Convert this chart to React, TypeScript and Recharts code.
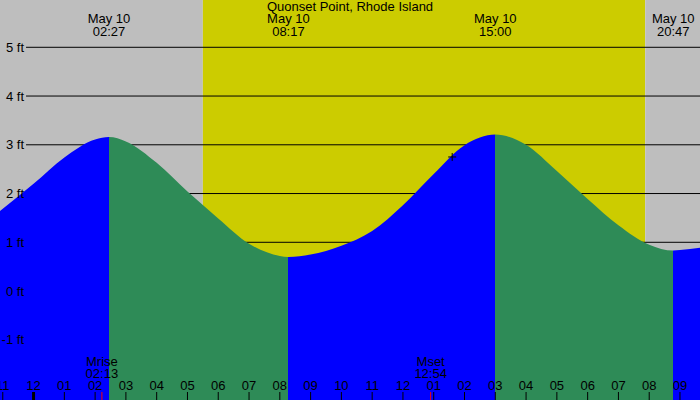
import React from "react";
import {
  ComposedChart,
  Area,
  XAxis,
  YAxis,
  ReferenceArea,
  ReferenceLine,
  ReferenceDot,
} from "recharts";

const title = "Quonset Point, Rhode Island";
const dateLabel = "May 10";

// hours counted from midnight, May 10
const tideHours = [
  -1.09, 0, 1, 2, 2.45, 3, 4, 5, 6, 7, 8, 8.28, 9, 10, 11, 12, 13, 14, 15, 16,
  17, 18, 19, 20, 20.78, 21, 21.65,
];
const tideFeet = [
  1.64, 2.2, 2.74, 3.11, 3.16, 3.07, 2.63, 2.04, 1.49, 0.97, 0.72, 0.7, 0.75,
  0.93, 1.23, 1.76, 2.4, 2.99, 3.21, 3.0, 2.46, 1.89, 1.35, 0.95, 0.83, 0.84,
  0.89,
];

const extremeHours = [2.45, 8.28, 15.0, 20.78];
const extremeTimes = ["02:27", "08:17", "15:00", "20:47"];

const sunriseHour = 5.5;
const sunsetHour = 19.87;

const moonHours = [2.22, 12.9];
const moonNames = ["Mrise", "Mset"];
const moonTimes = ["02:13", "12:54"];

const hourTicks = [
  -1, 0, 1, 2, 3, 4, 5, 6, 7, 8, 9, 10, 11, 12, 13, 14, 15, 16, 17, 18, 19, 20,
  21,
];
const feetTicks = [-1, 0, 1, 2, 3, 4, 5];

const nowHour = 13.6;
const nowFeet = 2.75;

const X_MIN = -1.09;
const X_MAX = 21.65;
const Y_MIN = -2.235;
const Y_MAX = 5.97;
const GRID_START = -0.244;

const FONT = "'Liberation Sans', Arial, sans-serif";
const RISING = "#0000ff";
const FALLING = "#2e8b57";
const NIGHT = "#bebebe";
const DAY = "#cccc00";

const data = tideHours.map((hour, i) => ({ hour, ft: tideFeet[i] }));

// hard colour stops: blue while rising, green while falling
const frac = (h: number) => ((h - X_MIN) / (X_MAX - X_MIN)) * 100;
const bounds = [X_MIN, ...extremeHours, X_MAX];
const fillStops = bounds.slice(0, -1).flatMap((h, i) => {
  const color = i % 2 === 0 ? RISING : FALLING;
  return [
    { offset: frac(h), color },
    { offset: frac(bounds[i + 1]), color },
  ];
});

const pad2 = (n: number) => String(n).padStart(2, "0");

const HourTick = ({ x, payload }: any) => {
  const h = payload.value as number;
  const h12 = ((h % 12) + 12) % 12 || 12;
  return (
    <g>
      <text x={x} y={390} textAnchor="middle" fontSize={13} fontFamily={FONT} fill="#000">
        {pad2(h12)}
      </text>
      <line x1={x} x2={x} y1={392} y2={400} stroke="#000" strokeWidth={h === 0 ? 3 : 1} />
    </g>
  );
};

const ExtremeTick = ({ x, payload }: any) => {
  const i = extremeHours.indexOf(payload.value);
  return (
    <text textAnchor="middle" fontSize={13} fontFamily={FONT} fill="#000">
      <tspan x={x} y={23}>{dateLabel}</tspan>
      <tspan x={x} y={36}>{extremeTimes[i]}</tspan>
    </text>
  );
};

const MoonTick = ({ x, payload }: any) => {
  const i = moonHours.indexOf(payload.value);
  return (
    <g>
      <text textAnchor="middle" fontSize={13} fontFamily={FONT} fill="#000">
        <tspan x={x} y={366}>{moonNames[i]}</tspan>
        <tspan x={x} y={378}>{moonTimes[i]}</tspan>
      </text>
      <line x1={x} x2={x} y1={392} y2={400} stroke="#ff0000" />
    </g>
  );
};

const FeetTick = ({ y, payload }: any) => (
  <text x={24} y={y} dy={4.5} textAnchor="end" fontSize={13} fontFamily={FONT} fill="#000">
    {payload.value} ft
  </text>
);

const PlusMark = ({ cx, cy }: any) => (
  <path d={`M${cx - 4},${cy}h8M${cx},${cy - 4}v8`} stroke="#000" strokeWidth={1} fill="none" />
);

export default function App() {
  return (
    <div style={{ position: "absolute", left: 0, top: 0, width: 700, height: 400, overflow: "hidden" }}>
      <ComposedChart width={700} height={400} data={data} margin={{ top: 0, right: 0, bottom: 0, left: 0 }}>
        <defs>
          <linearGradient id="tideFill" x1="0" y1="0" x2="1" y2="0">
            {fillStops.map((s, i) => (
              <stop key={i} offset={`${s.offset}%`} stopColor={s.color} />
            ))}
          </linearGradient>
        </defs>
        <XAxis
          dataKey="hour"
          type="number"
          domain={[X_MIN, X_MAX]}
          allowDataOverflow
          ticks={hourTicks}
          interval={0}
          mirror
          axisLine={false}
          tickLine={false}
          tick={<HourTick />}
        />
        <XAxis
          xAxisId="top"
          dataKey="hour"
          orientation="top"
          type="number"
          domain={[X_MIN, X_MAX]}
          allowDataOverflow
          ticks={extremeHours}
          interval={0}
          mirror
          axisLine={false}
          tickLine={false}
          tick={<ExtremeTick />}
        />
        <XAxis
          xAxisId="moon"
          dataKey="hour"
          type="number"
          domain={[X_MIN, X_MAX]}
          allowDataOverflow
          ticks={moonHours}
          interval={0}
          mirror
          axisLine={false}
          tickLine={false}
          tick={<MoonTick />}
        />
        <YAxis
          type="number"
          domain={[Y_MIN, Y_MAX]}
          allowDataOverflow
          ticks={feetTicks}
          interval={0}
          mirror
          axisLine={false}
          tickLine={false}
          tick={<FeetTick />}
        />
        <ReferenceArea x1={X_MIN} x2={sunriseHour} fill={NIGHT} fillOpacity={1} stroke="none" zIndex={-60} />
        <ReferenceArea x1={sunriseHour} x2={sunsetHour} fill={DAY} fillOpacity={1} stroke="none" zIndex={-60} />
        <ReferenceArea x1={sunsetHour} x2={X_MAX} fill={NIGHT} fillOpacity={1} stroke="none" zIndex={-60} />
        {feetTicks.map((v) => (
          <ReferenceLine
            key={v}
            segment={[
              { x: GRID_START, y: v },
              { x: X_MAX, y: v },
            ]}
            stroke="#000"
            strokeWidth={1}
            zIndex={-40}
          />
        ))}
        <Area
          dataKey="ft"
          type="monotone"
          stroke="none"
          fill="url(#tideFill)"
          fillOpacity={1}
          baseValue="dataMin"
          dot={false}
          activeDot={false}
          isAnimationActive={false}
        />
        <ReferenceDot x={nowHour} y={nowFeet} shape={<PlusMark />} zIndex={700} />
      </ComposedChart>
      <div
        style={{
          position: "absolute",
          left: 0,
          top: 0,
          width: 700,
          textAlign: "center",
          fontFamily: FONT,
          fontSize: 13,
          lineHeight: "13px",
          color: "#000",
          pointerEvents: "none",
        }}
      >
        {title}
      </div>
    </div>
  );
}
